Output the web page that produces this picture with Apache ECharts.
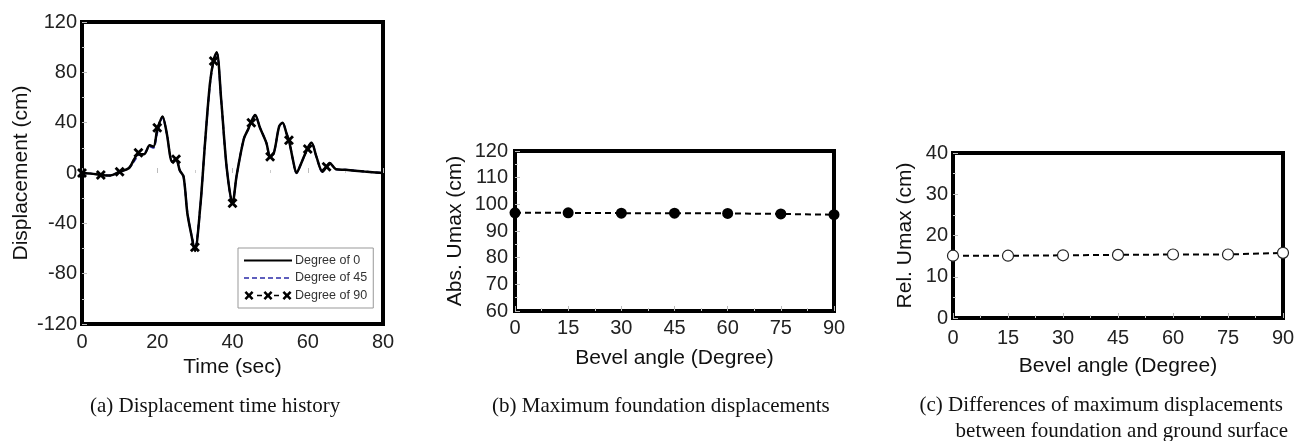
<!DOCTYPE html>
<html>
<head>
<meta charset="utf-8">
<script src="https://cdn.jsdelivr.net/npm/echarts@6/dist/echarts.min.js"></script>
<style>
html,body{margin:0;padding:0;background:#fff;}
#chart{width:1305px;height:441px;}
</style>
</head>
<body>
<div id="chart"></div>
<script>
// ---------- Panel (a): displacement time history ----------
const time  = [0, 2.5, 5, 7.5, 10, 12.5, 15, 16.5, 18, 19, 20, 21.4, 22.5, 24, 25, 26, 27, 28, 29, 30, 31.4, 32.7, 34, 35, 35.8, 37, 38.5, 40, 41.1, 43, 44.2, 45, 46, 47.3, 49, 50, 51, 52.4, 53.3, 54.4, 55, 56.1, 57, 58.3, 60, 61, 62.3, 63.9, 65, 65.8, 67.5, 70, 75, 80];
const deg0  = [0, -0.5, -1.5, -2, 1, 4, 15, 15, 22, 21, 34, 45, 32, 9, 11, 2, -3, -32, -48, -62, -28, 24, 71, 90, 96, 58, 3, -24, -2, 27, 35, 41, 46, 36, 24, 13, 16, 37, 40, 31, 26, 10, 0, 8, 20, 24, 13, 1, 5, 8, 3, 2.5, 1.2, 0];
const deg45 = [0, -0.5, -1.5, -2, 1, 4, 14, 15, 21, 20, 32, 44, 32, 9, 11, 2, -3, -31, -48, -61, -28, 24, 70, 90, 95, 58, 3, -24, -2, 27, 35, 41, 46, 36, 24, 13, 16, 37, 40, 31, 26, 10, 0, 8, 20, 24, 13, 1, 5, 8, 3, 2.5, 1.2, 0];
const deg90 = [0, -0.5, -1.5, -2, 1, 4, 16, 15, 22, 21, 36, 45, 32, 9, 11, 2, -3, -32, -48, -59, -28, 24, 71, 89, 96, 58, 3, -24, -2, 27, 35, 40, 46, 36, 24, 13, 16, 37, 40, 31, 26, 10, 0, 8, 19, 24, 13, 1, 5, 8, 3, 2.5, 1.2, 0];
const markerTimes = [0, 5, 10, 15, 20, 25, 30, 35, 40, 45, 50, 55, 60, 65];
const seriesNames = ['Degree of 0', 'Degree of 45', 'Degree of 90'];
const aXTicks = [0, 20, 40, 60, 80];
const aYTicks = [-120, -80, -40, 0, 40, 80, 120];

// ---------- Panels (b), (c): maxima vs bevel angle ----------
const angles  = [0, 15, 30, 45, 60, 75, 90];
const absUmax = [96.8, 96.8, 96.7, 96.7, 96.6, 96.4, 96.1];
const relUmax = [15.1, 15.1, 15.2, 15.3, 15.4, 15.4, 15.8];
const angleTicks = [0, 15, 30, 45, 60, 75, 90];
const bYTicks = [60, 70, 80, 90, 100, 110, 120];
const cYTicks = [0, 10, 20, 30, 40];

const captions = {
  a: '(a) Displacement time history',
  b: '(b) Maximum foundation displacements',
  c1: '(c) Differences of maximum displacements',
  c2: 'between foundation and ground surface'
};

const SANS = '"Liberation Sans", Arial, sans-serif';
const SERIF = '"Liberation Serif", "Times New Roman", serif';
const xPath = 'path://M0,2 L2,0 L5,3 L8,0 L10,2 L7,5 L10,8 L8,10 L5,7 L2,10 L0,8 L3,5 Z';

// legend icon shapes (48 x 12 box)
const corners = 'M0,0 L0.01,0 L0,0.01 Z M48,12 L47.99,12 L48,11.99 Z ';
function rect(x0, x1, y0, y1) { return 'M' + x0 + ',' + y0 + ' L' + x1 + ',' + y0 + ' L' + x1 + ',' + y1 + ' L' + x0 + ',' + y1 + ' Z '; }
function xShape(cx, cy, s) {
  const h = s / 2, t = s * 0.2;
  return 'M' + (cx - h) + ',' + (cy - h + t) + ' L' + (cx - h + t) + ',' + (cy - h) + ' L' + cx + ',' + (cy - t) +
    ' L' + (cx + h - t) + ',' + (cy - h) + ' L' + (cx + h) + ',' + (cy - h + t) + ' L' + (cx + t) + ',' + cy +
    ' L' + (cx + h) + ',' + (cy + h - t) + ' L' + (cx + h - t) + ',' + (cy + h) + ' L' + cx + ',' + (cy + t) +
    ' L' + (cx - h + t) + ',' + (cy + h) + ' L' + (cx - h) + ',' + (cy + h - t) + ' L' + (cx - t) + ',' + cy + ' Z ';
}
const iconSolid = 'path://' + corners + rect(0, 48, 5, 7);
let dashes = '';
for (let x = 0; x < 48; x += 8) dashes += rect(x, Math.min(x + 5, 48), 5.2, 6.8);
const iconDash = 'path://' + corners + dashes;
const iconX = 'path://' + corners + xShape(5, 6, 9) + rect(13, 18, 5.2, 6.8) + xShape(24, 6, 9) + rect(30, 35, 5.2, 6.8) + xShape(43, 6, 9);

function ticksAxis(ticks, extra) {
  return Object.assign({
    min: ticks[0],
    max: ticks[ticks.length - 1],
    interval: ticks[1] - ticks[0],
    axisLine: { show: false },
    axisTick: { show: true, inside: true, length: 5, lineStyle: { color: '#bbb', width: 1 } },
    minorTick: { show: true, splitNumber: 2, length: 3, lineStyle: { color: '#ccc', width: 1 } },
    splitLine: { show: false },
    axisLabel: { color: '#222', fontFamily: SANS, fontSize: 20 },
    nameLocation: 'middle',
    nameTextStyle: { color: '#111', fontFamily: SANS, fontSize: 21 }
  }, extra);
}

const gridBase = { show: true, borderColor: '#000', borderWidth: 4, backgroundColor: 'transparent', containLabel: false, outerBoundsMode: 'none' };

const d0 = time.map((t, i) => [t, deg0[i]]);
const d45 = time.map((t, i) => [t, deg45[i]]);
const d90 = time.map((t, i) => markerTimes.indexOf(t) >= 0 ? { value: [t, deg90[i]] } : { value: [t, deg90[i]], symbol: 'none' });

const option = {
  animation: false,
  backgroundColor: '#fff',
  grid: [
    Object.assign({ left: 82, top: 22, width: 301, height: 302 }, gridBase),
    Object.assign({ left: 515, top: 151, width: 319, height: 160 }, gridBase),
    Object.assign({ left: 953, top: 153, width: 330, height: 165 }, gridBase)
  ],
  xAxis: [
    ticksAxis(aXTicks, { gridIndex: 0, type: 'value', name: 'Time (sec)', nameGap: 33,
      axisLabel: { color: '#222', fontFamily: SANS, fontSize: 20, margin: 8 } }),
    ticksAxis(angleTicks, { gridIndex: 1, type: 'value', name: 'Bevel angle (Degree)', nameGap: 37,
      axisLabel: { color: '#222', fontFamily: SANS, fontSize: 20, margin: 7 } }),
    ticksAxis(angleTicks, { gridIndex: 2, type: 'value', name: 'Bevel angle (Degree)', nameGap: 38,
      axisLabel: { color: '#222', fontFamily: SANS, fontSize: 20, margin: 10 } })
  ],
  yAxis: [
    ticksAxis(aYTicks, { gridIndex: 0, type: 'value', name: 'Displacement (cm)', nameGap: 50,
      axisLabel: { color: '#222', fontFamily: SANS, fontSize: 20, margin: 5 } }),
    ticksAxis(bYTicks, { gridIndex: 1, type: 'value', name: 'Abs. Umax (cm)', nameGap: 49,
      axisLabel: { color: '#222', fontFamily: SANS, fontSize: 20, margin: 7 } }),
    ticksAxis(cYTicks, { gridIndex: 2, type: 'value', name: 'Rel. Umax (cm)', nameGap: 37,
      axisLabel: { color: '#222', fontFamily: SANS, fontSize: 20, margin: 5 } })
  ],
  legend: {
    data: [
      { name: seriesNames[0], icon: iconSolid },
      { name: seriesNames[1], icon: iconDash },
      { name: seriesNames[2], icon: iconX }
    ],
    orient: 'vertical',
    left: 238, top: 248,
    padding: [6, 6, 6, 6],
    itemWidth: 48, itemHeight: 12, itemGap: 4.5,
    borderColor: '#999', borderWidth: 1,
    backgroundColor: '#fff',
    textStyle: { color: '#333', fontFamily: SANS, fontSize: 12.5, padding: [0, 0, 0, -2] }
  },
  series: [
    { name: seriesNames[1], type: 'line', xAxisIndex: 0, yAxisIndex: 0, data: d45, symbol: 'none',
      smooth: 0.3, lineStyle: { color: '#2a2aa8', width: 2, type: [5, 3] }, itemStyle: { color: '#2a2aa8' }, z: 2 },
    { name: seriesNames[0], type: 'line', xAxisIndex: 0, yAxisIndex: 0, data: d0, symbol: 'none',
      smooth: 0.3, lineStyle: { color: '#000', width: 2.5 }, itemStyle: { color: '#000' }, z: 3 },
    { name: seriesNames[2], type: 'line', xAxisIndex: 0, yAxisIndex: 0, data: d90, symbol: xPath, symbolSize: 10,
      showSymbol: true, showAllSymbol: true, clip: false,
      smooth: 0.3, lineStyle: { color: '#000', width: 1.5, type: [5, 4] }, itemStyle: { color: '#000' }, z: 4 },
    { name: 'abs', type: 'line', xAxisIndex: 1, yAxisIndex: 1, data: angles.map((a, i) => [a, absUmax[i]]),
      symbol: 'circle', symbolSize: 11, clip: false,
      lineStyle: { color: '#000', width: 2, type: [6, 4] }, itemStyle: { color: '#000' }, z: 5 },
    { name: 'rel', type: 'line', xAxisIndex: 2, yAxisIndex: 2, data: angles.map((a, i) => [a, relUmax[i]]),
      symbol: 'circle', symbolSize: 11, clip: false,
      lineStyle: { color: '#000', width: 2, type: [6, 4] },
      itemStyle: { color: '#fff', borderColor: '#222', borderWidth: 1.2 }, z: 5 }
  ],
  graphic: [
    { type: 'text', left: 217 - 127, top: 396, style: { text: captions.a, font: '21px ' + SERIF, fill: '#111' } },
    { type: 'text', left: 663 - 171, top: 396, style: { text: captions.b, font: '21px ' + SERIF, fill: '#111' } },
    { type: 'text', right: 1305 - 1283, top: 395, style: { text: captions.c1, font: '21px ' + SERIF, fill: '#111' } },
    { type: 'text', right: 1305 - 1288, top: 421, style: { text: captions.c2, font: '21px ' + SERIF, fill: '#111' } }
  ]
};

const chart = echarts.init(document.getElementById('chart'), null, { renderer: 'canvas' });
chart.setOption(option);
</script>
</body>
</html>
